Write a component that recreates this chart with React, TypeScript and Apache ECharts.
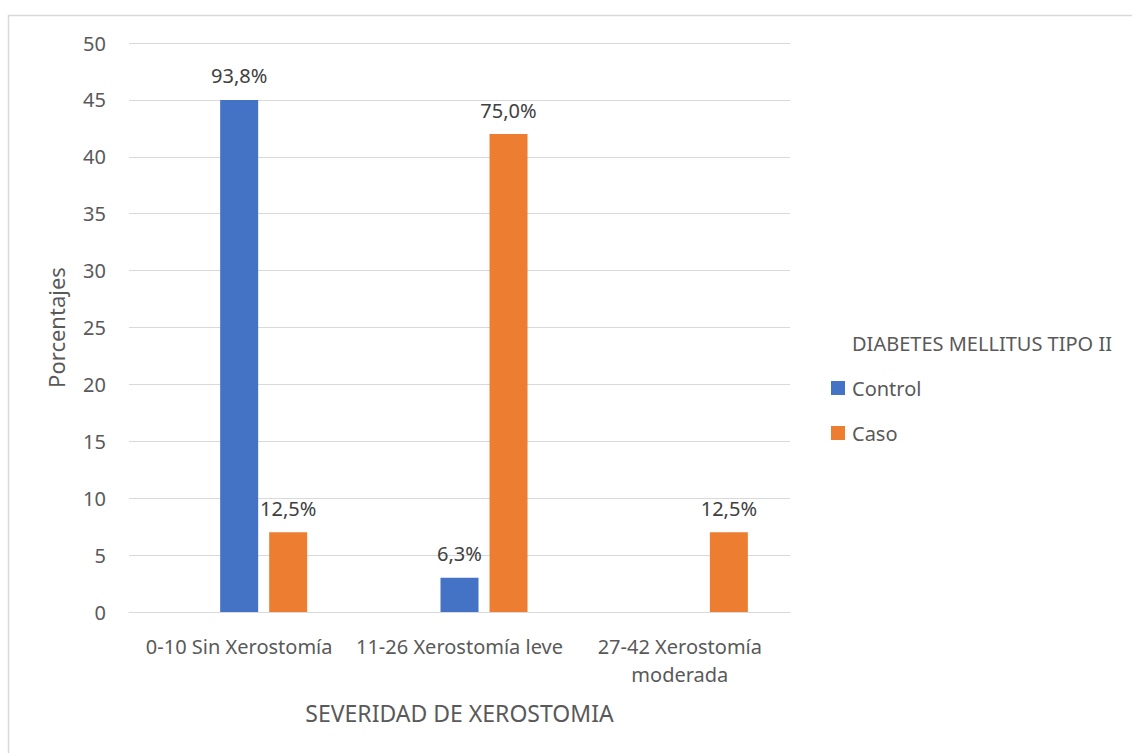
import React, { useEffect, useRef } from "react";
import * as echarts from "echarts";

const categories = ["0-10 Sin Xerostomía", "11-26 Xerostomía leve", "27-42 Xerostomía moderada"];
const seriesNames = ["Control", "Caso"];
const controlValues: (number | null)[] = [45, 3, null];
const casoValues: (number | null)[] = [7, 42, 7];
const controlLabels = ["93,8%", "6,3%", ""];
const casoLabels = ["12,5%", "75,0%", "12,5%"];
const yTicks = { min: 0, max: 50, interval: 5 };
const legendTitle = "DIABETES MELLITUS TIPO II";
const xAxisName = "SEVERIDAD DE XEROSTOMIA";
const yAxisName = "Porcentajes";

const FONT = "'Noto Sans', 'Open Sans', sans-serif";
const TEXT = "#595959";
const GRID = "#d9d9d9";
const BLUE = "#4472C4";
const ORANGE = "#ED7D31";

export default function App() {
  const ref = useRef<HTMLDivElement>(null);
  useEffect(() => {
    if (!ref.current) return;
    const chart = echarts.init(ref.current, undefined, { renderer: "svg" });
    const labelStyle = (labels: string[]) => ({
      show: true,
      position: "top",
      distance: 14,
      color: "#404040",
      fontFamily: FONT,
      fontSize: 20,
      formatter: (p: any) => labels[p.dataIndex] ?? "",
    });
    chart.setOption({
      animation: false,
      textStyle: { fontFamily: FONT },
      graphic: [
        {
          type: "rect",
          shape: { x: 8.5, y: 15.5, width: 1200, height: 800 },
          style: { fill: "none", stroke: GRID, lineWidth: 1.5 },
          silent: true,
        },
      ],
      title: {
        text: legendTitle,
        left: 852,
        top: 333,
        padding: 0,
        textStyle: { fontFamily: FONT, fontSize: 20, fontWeight: "normal", color: TEXT, lineHeight: 20 },
      },
      legend: {
        data: seriesNames,
        orient: "vertical",
        left: 831,
        top: 378,
        padding: 0,
        itemWidth: 14,
        itemHeight: 14,
        itemGap: 25,
        icon: "rect",
        textStyle: { fontFamily: FONT, fontSize: 20, color: TEXT, lineHeight: 20, padding: [0, 0, 0, 2] },
      },
      grid: { left: 129, right: 342, top: 43, bottom: 141, containLabel: false },
      xAxis: {
        type: "category",
        data: categories,
        name: xAxisName,
        nameLocation: "middle",
        nameGap: 89,
        nameTextStyle: { fontFamily: FONT, fontSize: 23, color: TEXT, lineHeight: 23 },
        axisLine: { show: true, lineStyle: { color: GRID, width: 1 } },
        axisTick: { show: false },
        axisLabel: {
          interval: 0,
          margin: 20,
          fontFamily: FONT,
          fontSize: 20,
          lineHeight: 28,
          color: TEXT,
          formatter: (v: string) => {
            if (v.length > 22) {
              const i = v.lastIndexOf(" ");
              return v.slice(0, i) + "\n" + v.slice(i + 1);
            }
            return v;
          },
        },
      },
      yAxis: {
        type: "value",
        min: yTicks.min,
        max: yTicks.max,
        interval: yTicks.interval,
        name: yAxisName,
        nameLocation: "middle",
        nameRotate: 90,
        nameGap: 62,
        nameTextStyle: { fontFamily: FONT, fontSize: 22, color: TEXT, lineHeight: 22 },
        axisLine: { show: false },
        axisTick: { show: false },
        axisLabel: { margin: 23, fontFamily: FONT, fontSize: 20, color: TEXT },
        splitLine: { lineStyle: { color: GRID, width: 1 } },
      },
      series: [
        {
          name: "",
          type: "bar",
          data: categories.map(() => null),
          barWidth: 38,
          barGap: "29%",
          itemStyle: { color: "transparent" },
          silent: true,
        },
        {
          name: seriesNames[0],
          type: "bar",
          data: controlValues,
          barWidth: 38,
          barGap: "29%",
          itemStyle: { color: BLUE },
          label: labelStyle(controlLabels),
        },
        {
          name: seriesNames[1],
          type: "bar",
          data: casoValues,
          barWidth: 38,
          barGap: "29%",
          itemStyle: { color: ORANGE },
          label: labelStyle(casoLabels),
        },
      ],
    });
    return () => chart.dispose();
  }, []);
  return (
    <div
      ref={ref}
      style={{ position: "absolute", left: 0, top: 0, width: 1132, height: 753, background: "#fff" }}
    />
  );
}
